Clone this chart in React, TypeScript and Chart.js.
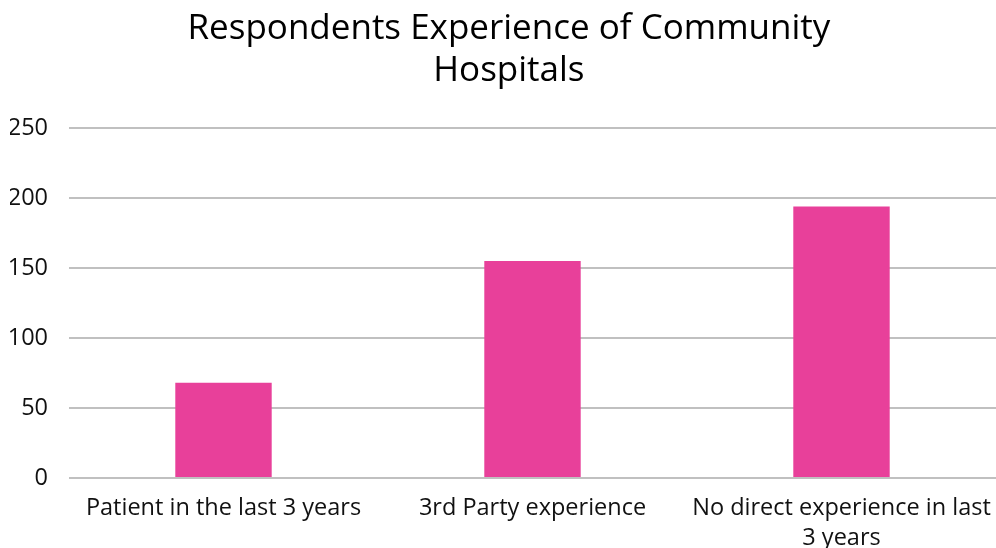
import React, { useEffect, useRef } from "react";
import { Chart, registerables } from "chart.js";

Chart.register(...registerables);

const categories: (string | string[])[] = [
  "Patient in the last 3 years",
  "3rd Party experience",
  ["No direct experience in last", "3 years"],
];
const respondents: number[] = [68, 155, 194];
const yTicks: number[] = [0, 50, 100, 150, 200, 250];
const titleLines: string[] = ["\u2009Respondents Experience of Community", "\u2009Hospitals"];

const FONT = "'Open Sans', 'DejaVu Sans', sans-serif";

export default function App() {
  const ref = useRef<HTMLCanvasElement | null>(null);

  useEffect(() => {
    document.body.style.margin = "0";
    const ctx = ref.current;
    if (!ctx) return;
    const chart = new Chart(ctx, {
      type: "bar",
      data: {
        labels: categories,
        datasets: [
          {
            label: "Respondents",
            data: respondents,
            backgroundColor: "#E8409A",
            borderWidth: 0,
            categoryPercentage: 1,
            barPercentage: 0.312,
          },
        ],
      },
      options: {
        animation: false,
        responsive: false,
        maintainAspectRatio: false,
        layout: { padding: { left: 10, right: -6, top: 0, bottom: 0 } },
        plugins: {
          legend: { display: false },
          tooltip: { enabled: false },
          title: {
            display: true,
            text: titleLines,
            color: "#000000",
            font: { family: FONT, size: 35, weight: "normal", lineHeight: 1.22 },
            padding: { top: 7.3, bottom: 35.3 },
          },
        },
        scales: {
          x: {
            grid: {
              display: true,
              drawOnChartArea: false,
              drawTicks: true,
              tickLength: 16,
              color: "rgba(0,0,0,0)",
            },
            border: { display: false },
            afterFit: (scale: any) => {
              scale.height = 70;
              scale.paddingLeft = 0;
              scale.paddingRight = -6;
            },
            ticks: {
              color: "#111111",
              font: { family: FONT, size: 23.5, lineHeight: 1.25 },
              maxRotation: 0,
              minRotation: 0,
              autoSkip: false,
              padding: 0,
            },
          },
          y: {
            min: 0,
            max: 250,
            afterBuildTicks: (axis: any) => {
              axis.ticks = yTicks.map((v) => ({ value: v }));
            },
            afterFit: (scale: any) => {
              scale.width = 59;
            },
            grid: { color: "#C0C0C0", lineWidth: 2, drawTicks: false },
            border: { display: false },
            ticks: {
              color: "#111111",
              font: { family: FONT, size: 23.5 },
              padding: 21,
            },
          },
        },
      },
    });
    return () => chart.destroy();
  }, []);

  return (
    <div style={{ position: "fixed", left: 0, top: 0, width: 996, height: 548, background: "#ffffff" }}>
      <canvas ref={ref} width={996} height={548} />
    </div>
  );
}
